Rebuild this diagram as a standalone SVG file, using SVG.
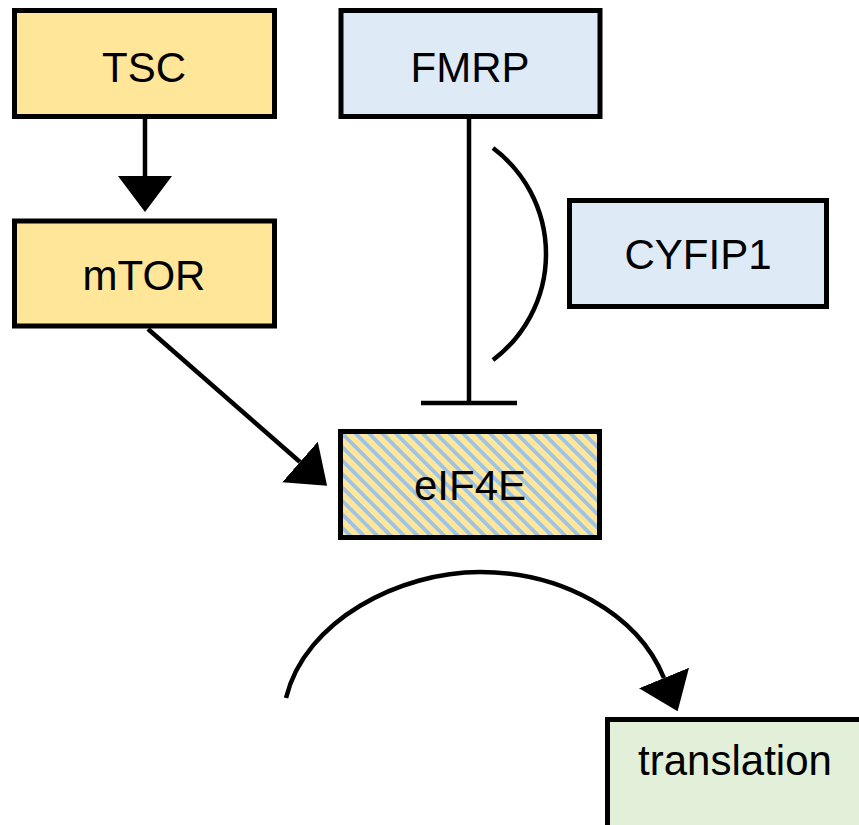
<svg xmlns="http://www.w3.org/2000/svg" width="859" height="825" viewBox="0 0 859 825">
<style>
.box{stroke:#000;stroke-width:5}
.yellow{fill:#FFE699}
.blue{fill:#DEEBF7}
.green{fill:#E2F0D9}
.lbl{font-family:"Liberation Sans",Arial,sans-serif;font-size:42px;fill:#000;text-anchor:middle}
.con{fill:none;stroke:#000;stroke-width:4.5}
</style>
<defs>
<marker id="arr" markerUnits="userSpaceOnUse" markerWidth="36" markerHeight="54" viewBox="0 0 36 54" refX="0" refY="27" orient="auto">
<path d="M0,0 L36,27 L0,54 Z" fill="#000"/>
</marker>
<pattern id="hatch" patternUnits="userSpaceOnUse" width="9.5" height="9.5" patternTransform="rotate(-45)">
<rect width="9.5" height="9.5" fill="#FFE699"/>
<rect width="3.8" height="9.5" fill="#9DC3E6"/>
</pattern>
</defs>
<g id="TSC"><rect class="box yellow" x="14.5" y="10.5" width="260" height="106"/><text class="lbl" x="144" y="82">TSC</text></g>
<g id="FMRP"><rect class="box blue" x="341" y="10.5" width="259" height="106"/><text class="lbl" x="470" y="82">FMRP</text></g>
<g id="mTOR"><rect class="box yellow" x="14.5" y="221" width="260" height="105"/><text class="lbl" x="144" y="290">mTOR</text></g>
<g id="CYFIP1"><rect class="box blue" x="569.5" y="200.5" width="257" height="106"/><text class="lbl" x="698" y="269">CYFIP1</text></g>
<g id="eIF4E"><rect class="box" fill="url(#hatch)" x="340.5" y="431.5" width="259" height="106"/><text class="lbl" x="470" y="500">eIF4E</text></g>
<g id="translation"><rect class="box green" x="607.5" y="719.5" width="260" height="120"/><text class="lbl" x="735" y="775">translation</text></g>
<g id="connectors">
<line class="con" x1="145" y1="117" x2="145" y2="176" marker-end="url(#arr)"/>
<line class="con" x1="148" y1="329" x2="300" y2="462" marker-end="url(#arr)"/>
<line class="con" x1="469" y1="117" x2="469" y2="403"/>
<line class="con" x1="421" y1="403" x2="517" y2="403"/>
<path class="con" d="M493,148 A132.5,132.5 0 0 1 493,360"/>
<path class="con" d="M286,698 C305,620 400,572 480,572 C560,572 637,612 664,678" marker-end="url(#arr)"/>
</g>
</svg>
